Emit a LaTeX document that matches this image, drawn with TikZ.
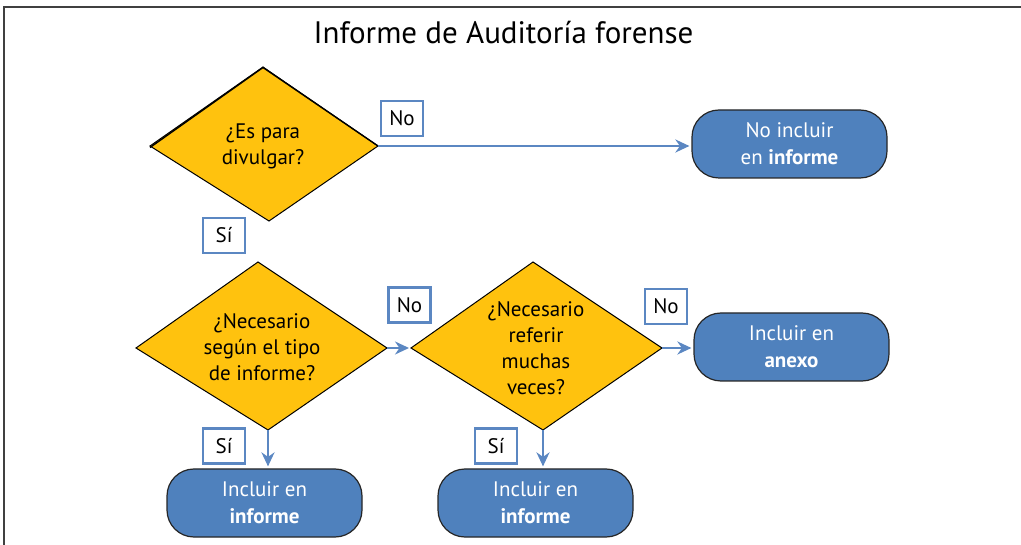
\documentclass[tikz,border=0pt]{standalone}
\usepackage{fontspec}
\setmainfont{PT Sans}
\usetikzlibrary{shapes.geometric,arrows.meta}
\definecolor{gold}{HTML}{FFC20E}
\definecolor{boxblue}{HTML}{4F81BD}
\definecolor{arrowblue}{HTML}{5B87C2}
\definecolor{framegray}{HTML}{404040}
\begin{document}
\begin{tikzpicture}[x=1pt,y=-1pt,
  dia/.style={draw=black, line width=1pt, fill=gold, line join=miter},
  diatext/.style={align=center, font=\fontsize{21}{26}\selectfont, text=black, inner sep=0pt},
  endbox/.style={rounded corners=27pt, draw=black!85, line width=1.2pt, fill=boxblue, text=white, align=center, font=\fontsize{21}{27}\selectfont, minimum width=195pt, minimum height=68pt, inner sep=0pt},
  tag/.style={draw=arrowblue, line width=2.2pt, fill=white, minimum width=42pt, minimum height=35pt, inner sep=0pt, font=\fontsize{21}{22}\selectfont},
  flow/.style={draw=arrowblue, line width=2.2pt, -{Stealth[length=14pt,width=13pt,inset=4.5pt]}, shorten >=2pt}
]
\useasboundingbox (0,0) rectangle (1021,545);
\draw[framegray, line width=2pt] (1021,7.5) -- (3.5,7.5) -- (3.5,545);
\node[font=\fontsize{31}{36}\selectfont] (title) at (503.5,33) {Informe de Auditoría forense};

% diamond 1
\coordinate (d1t) at (263,67);
\coordinate (d1l) at (150,146);
\coordinate (d1r) at (378,146);
\coordinate (d1b) at (269,221);
\path[dia] (d1t) -- (d1r) -- (d1b) -- (d1l) -- cycle;
\draw[black, line width=1.4pt] ([yshift=-1.5pt]d1l) -- ([yshift=-0.5pt]d1t) -- (d1r);
\node[diatext] (d1) at (263,146) {¿Es para\\divulgar?};
\node[endbox] (n1) at (789.5,144) {No incluir\\en \textbf{informe}};
\draw[flow] (d1r) -- (d1r -| n1.west);
\node[tag] (no1) at (402,118.5) {No};
\node[tag] (si1) at (224,235.5) {Sí};

% diamond 2
\coordinate (d2t) at (258,262);
\coordinate (d2l) at (136,348);
\coordinate (d2r) at (387,348);
\coordinate (d2b) at (268,430);
\path[dia] (d2t) -- (d2r) -- (d2b) -- (d2l) -- cycle;
\node[diatext] (d2) at (262,347) {¿Necesario\\según el tipo\\de informe?};

% diamond 3
\coordinate (d3t) at (533,262);
\coordinate (d3l) at (411,348);
\coordinate (d3r) at (662,348);
\coordinate (d3b) at (543,430);
\path[dia] (d3t) -- (d3r) -- (d3b) -- (d3l) -- cycle;
\node[diatext] (d3) at (536,348) {¿Necesario\\referir\\muchas\\veces?};

\draw[flow] (d2r) -- (d3l);
\node[tag] (no2) at (409.5,305) {No};
\node[endbox] (n3) at (791.5,347) {Incluir en\\\textbf{anexo}};
\draw[flow] (d3r) -- (d3r -| n3.west);
\node[tag] (no3) at (666,306.5) {No};

\node[endbox] (n4) at (264.5,503) {Incluir en\\\textbf{informe}};
\node[endbox] (n5) at (535.5,503) {Incluir en\\\textbf{informe}};
\draw[flow] (d2b) -- (d2b |- n4.north);
\draw[flow] (d3b) -- (d3b |- n5.north);
\node[tag] (si2) at (224,446) {Sí};
\node[tag] (si3) at (496,446) {Sí};
\end{tikzpicture}
\end{document}
